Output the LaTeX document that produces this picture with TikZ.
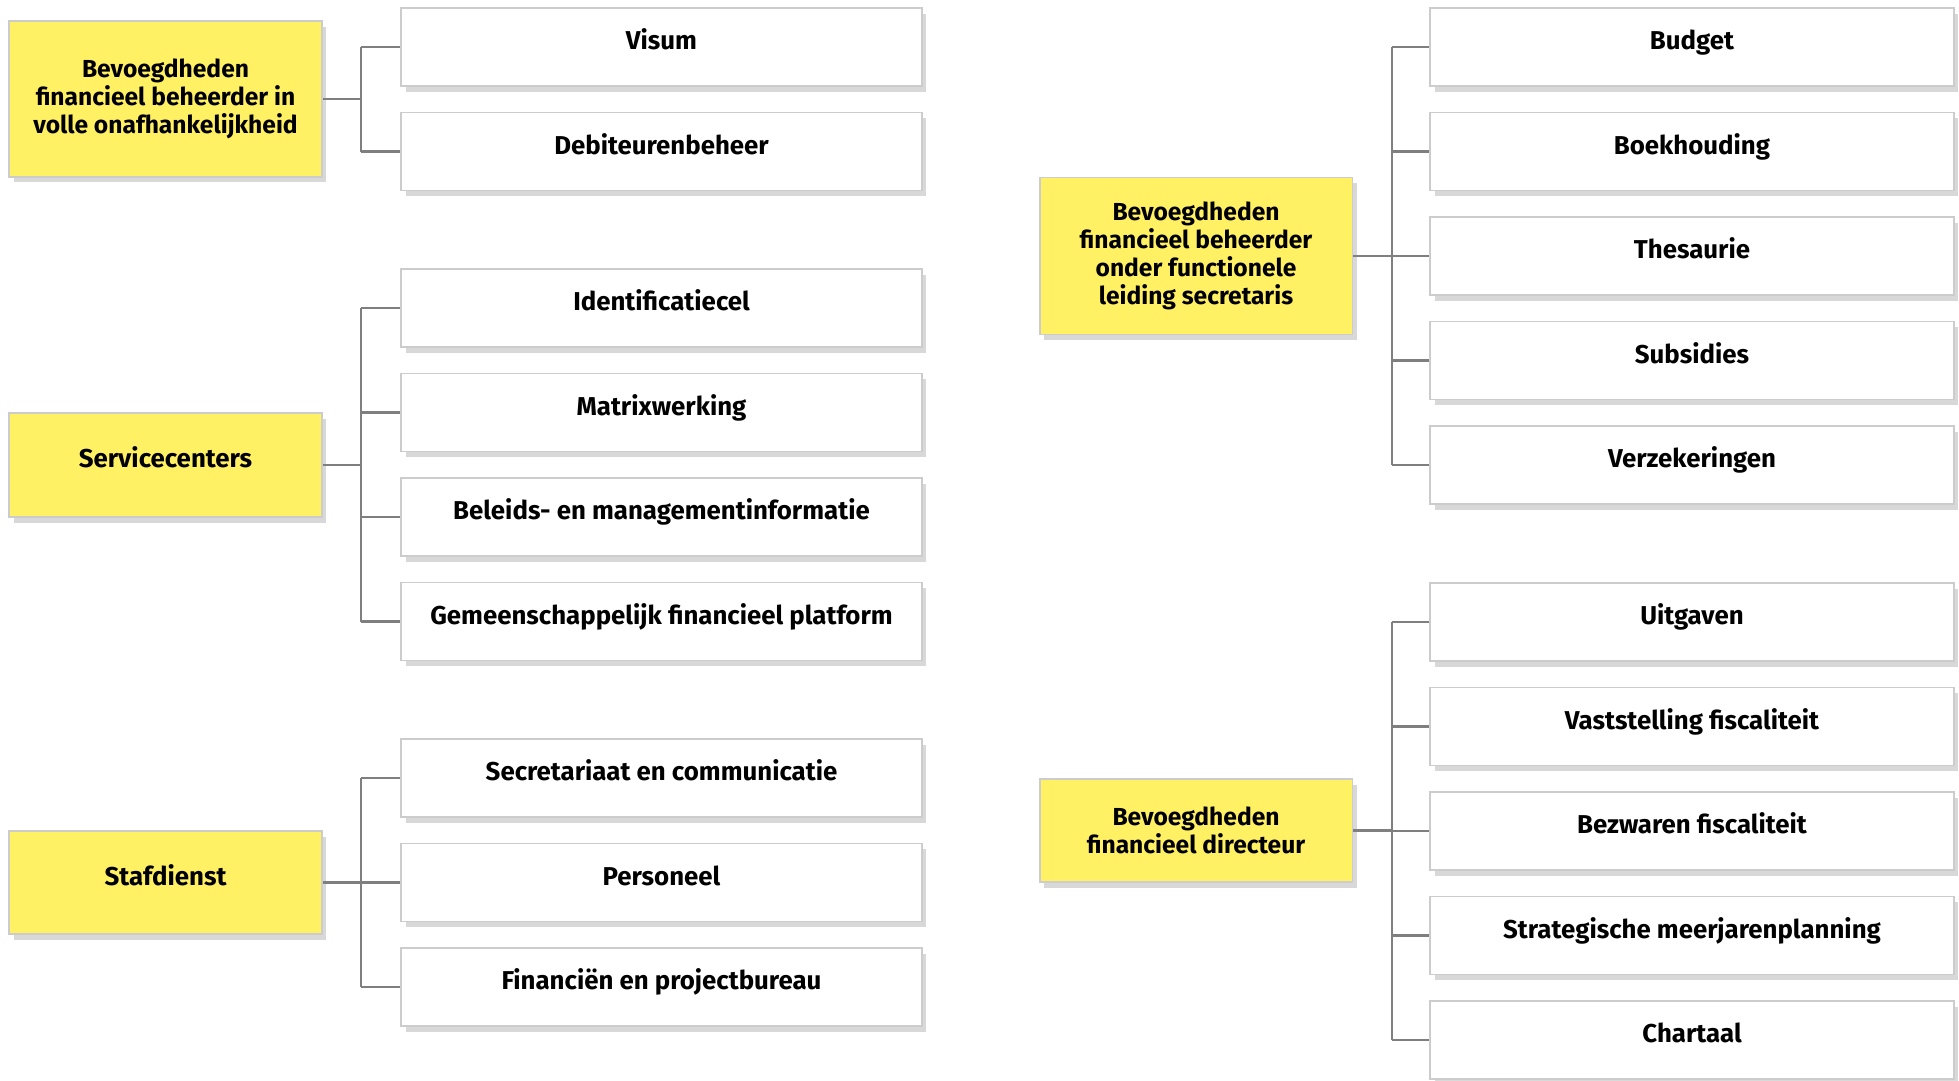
\documentclass[tikz,border=0pt]{standalone}
\usepackage{fontspec}
\setmainfont{Fira Sans}
\usetikzlibrary{shadows}
\definecolor{headyellow}{HTML}{FFF064}
\definecolor{boxline}{HTML}{CCCCCC}
\definecolor{connline}{HTML}{7F7F7F}
\tikzset{
  basebox/.style={draw=boxline, line width=1.1pt,
    drop shadow={shadow xshift=0.9mm, shadow yshift=-1.1mm, opacity=0.3, fill=black!50}},
  headbox/.style={basebox, fill=headyellow, minimum width=6.26cm, align=center,
    font=\fontsize{14}{16}\selectfont\bfseries},
  oneline/.style={text height=10pt, text depth=7pt, font=\fontsize{14.7}{17}\selectfont\bfseries},
  itembox/.style={basebox, oneline, fill=white, minimum height=1.56cm},
  conn/.style={draw=connline, line width=1.3pt},
}
\begin{document}
\begin{tikzpicture}[x=0.02cm, y=-0.02cm]
        \path[use as bounding box, fill=white] (0,0) rectangle (1959,1080);

        % Left column: heads
        \node[headbox, minimum height=3.12cm] (vol) at (165.5,99)
          {Bevoegdheden\\financieel beheerder in\\volle onafhankelijkheid};
        \node[headbox, oneline, minimum height=2.08cm] (svc) at (165.5,465) {Servicecenters};
        \node[headbox, oneline, minimum height=2.06cm] (staf) at (165.5,882.5) {Stafdienst};

        % Right column: heads
        \node[headbox, minimum height=3.14cm] (func) at (1196,256)
          {Bevoegdheden\\financieel beheerder\\onder functionele\\leiding secretaris};
        \node[headbox, minimum height=2.06cm] (dir) at (1196,830.5)
          {Bevoegdheden\\financieel directeur};

        % Items
        \foreach \txt [count=\i] in {Visum, Debiteurenbeheer}
          \node[itembox, minimum width=10.42cm] (vol-\i) at (661.5,{47+104.5*(\i-1)}) {\txt};
        \foreach \txt [count=\i] in {Identificatiecel, Matrixwerking,
            Beleids- en managementinformatie, Gemeenschappelijk financieel platform}
          \node[itembox, minimum width=10.42cm] (svc-\i) at (661.5,{308+104.5*(\i-1)}) {\txt};
        \foreach \txt [count=\i] in {Secretariaat en communicatie, Personeel,
            Financiën en projectbureau}
          \node[itembox, minimum width=10.42cm] (staf-\i) at (661.5,{778+104.5*(\i-1)}) {\txt};
        \foreach \txt [count=\i] in {Budget, Boekhouding, Thesaurie, Subsidies, Verzekeringen}
          \node[itembox, minimum width=10.48cm] (func-\i) at (1692,{47+104.5*(\i-1)}) {\txt};
        \foreach \txt [count=\i] in {Uitgaven, Vaststelling fiscaliteit, Bezwaren fiscaliteit,
            Strategische meerjarenplanning, Chartaal}
          \node[itembox, minimum width=10.48cm] (dir-\i) at (1692,{622+104.5*(\i-1)}) {\txt};

        % Junctions
        \coordinate (vol-j) at (361,99);
        \coordinate (svc-j) at (361,465);
        \coordinate (staf-j) at (361,882.5);
        \coordinate (func-j) at (1392,256);
        \coordinate (dir-j) at (1392,830.5);

        % Connectors
        \foreach \grp/\last in {vol/2, svc/4, staf/3, func/5, dir/5} {
          \draw[conn] (\grp.east) -- (\grp-j);
          \draw[conn] (\grp-j |- \grp-1.west) -- (\grp-j |- \grp-\last.west);
          \foreach \i in {1,...,\last}
            \draw[conn] (\grp-j |- \grp-\i.west) -- (\grp-\i.west);
        }
      \end{tikzpicture}
\end{document}
